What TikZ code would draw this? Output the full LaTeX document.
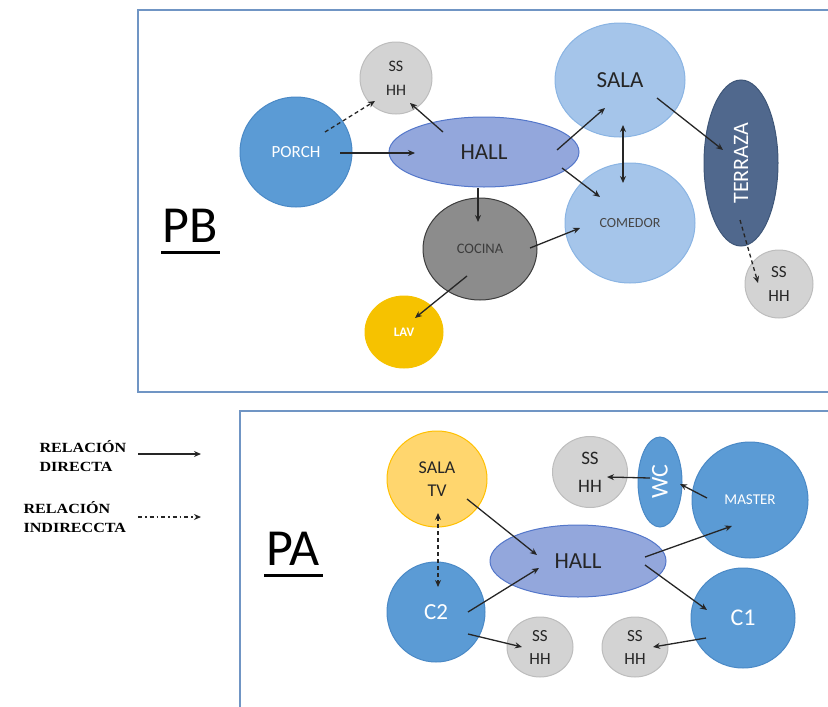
\documentclass[tikz,border=0pt]{standalone}
\usepackage{fontspec}
\usepackage{graphicx}
\setmainfont{Carlito}
\newfontfamily\legendfont[FakeStretch=1.15]{Liberation Serif}
\usetikzlibrary{shapes.geometric,arrows.meta}

\definecolor{ink}{HTML}{262626}
\definecolor{framecol}{HTML}{7095C4}
\definecolor{midblue}{HTML}{5B9BD5}
\definecolor{midblueline}{HTML}{4A89C6}
\definecolor{lightblue}{HTML}{A5C5EA}
\definecolor{lightblueline}{HTML}{8AB4E3}
\definecolor{hallfill}{HTML}{93A7DC}
\definecolor{hallline}{HTML}{5477CA}
\definecolor{slate}{HTML}{50688D}
\definecolor{slateline}{HTML}{3E5678}
\definecolor{ssfill}{HTML}{D3D3D3}
\definecolor{ssline}{HTML}{BDBDBD}
\definecolor{kitchen}{HTML}{8C8C8C}
\definecolor{kitchenline}{HTML}{3C3C3C}
\definecolor{laundry}{HTML}{F6C200}
\definecolor{tvfill}{HTML}{FFD66E}
\definecolor{tvline}{HTML}{FFC000}

\newcommand\fsz[2]{\fontsize{#1}{#2}\selectfont}

\tikzset{
  room/.style={ellipse, inner sep=0pt, line width=1pt, align=center, text=ink},
  bluerm/.style={room, fill=midblue, draw=midblueline, text=white},
  lightrm/.style={room, fill=lightblue, draw=lightblueline},
  hallrm/.style={room, fill=hallfill, draw=hallline},
  bathrm/.style={room, fill=ssfill, draw=ssline},
  frame/.style={draw=framecol, line width=2pt},
  arr/.style={draw=ink, line width=1.3pt, -{Stealth[length=7pt,width=6pt]}},
  darr/.style={arr, dash pattern=on 4pt off 3pt},
  biarr/.style={draw=ink, line width=1.3pt, {Stealth[length=7pt,width=6pt]}-{Stealth[length=7pt,width=6pt]}},
  bidarr/.style={biarr, dash pattern=on 4pt off 3pt},
  plan/.style={font=\fsz{52}{52}, text=black},
  legend/.style={font=\legendfont\bfseries\fsz{14}{19}, align=left, anchor=west, text=black},
}

\begin{document}
\begin{tikzpicture}[x=1pt,y=-1pt]
\useasboundingbox (0,0) rectangle (828,707);

% frames of the two floors
\draw[frame] (845,10) -- (138,10) -- (138,392) -- (845,392);
\draw[frame] (845,411) -- (240,411) -- (240,720);

% ---------- ground floor (PB) ----------
\node[plan] (pb) at (190,226) {PB};
\draw[line width=3pt] (161,252) -- (220,252);

\node[bluerm, minimum width=112pt, minimum height=110pt, font=\fsz{17}{20}] (porch) at (296,152) {PORCH};
\node[bathrm, minimum width=72pt, minimum height=72pt, font=\fsz{16}{24}] (ssa) at (396,78) {SS\\HH};
\node[hallrm, minimum width=190pt, minimum height=70pt, font=\fsz{23}{26}] (hall) at (484,152) {HALL};
\node[lightrm, minimum width=130pt, minimum height=114pt, font=\fsz{23}{26}] (sala) at (620,80) {SALA};
\node[lightrm, minimum width=130pt, minimum height=120pt, font=\fsz{14}{16}, text=ink!85] (comedor) at (630,223) {COMEDOR};
\node[room, fill=slate, draw=slateline, minimum width=74pt, minimum height=166pt, text=white, font=\fsz{22}{24}] (terraza) at (741,163) {\rotatebox{90}{TERRAZA}};
\node[bathrm, minimum width=68pt, minimum height=68pt, font=\fsz{17}{24}] (ssb) at (779,284) {SS\\HH};
\node[room, fill=kitchen, draw=kitchenline, minimum width=114pt, minimum height=102pt, font=\fsz{14.5}{16}, text=ink!90] (cocina) at (480,249) {COCINA};
\node[room, fill=laundry, draw=laundry, minimum width=78pt, minimum height=72pt, text=white, font=\bfseries\fsz{13}{15}] (lav) at (404,332) {LAV};

\draw[arr] ([shift={(44,1)}]porch.center) -- ([shift={(-69,1)}]hall.center);
\draw[darr] ([shift={(29,-20)}]porch.center) -- ([shift={(-21,23)}]ssa.center);
\draw[arr] ([shift={(-41,-20)}]hall.center) -- ([shift={(14,25)}]ssa.center);
\draw[arr] ([shift={(73,-2)}]hall.center) -- ([shift={(-15,28)}]sala.center);
\draw[arr] ([shift={(78,16)}]hall.center) -- ([shift={(-30,-26)}]comedor.center);
\draw[arr] ([shift={(-6,36)}]hall.center) -- ([shift={(-2,-27)}]cocina.center);
\draw[arr] ([shift={(50,-1)}]cocina.center) -- ([shift={(-50,5)}]comedor.center);
\draw[arr] ([shift={(-13,27)}]cocina.center) -- ([shift={(11,-14)}]lav.center);
\draw[biarr] ([shift={(3,45)}]sala.center) -- ([shift={(-7,-40)}]comedor.center);
\draw[arr] ([shift={(37,18)}]sala.center) -- ([shift={(-18,-13)}]terraza.center);
\draw[darr] ([shift={(-1,57)}]terraza.center) -- ([shift={(-21,-1)}]ssb.center);

% ---------- upper floor (PA) ----------
\node[plan] (pa) at (293,549) {PA};
\draw[line width=3pt] (264,575) -- (323,575);

\node[room, fill=tvfill, draw=tvline, minimum width=100pt, minimum height=96pt, font=\fsz{18}{23}] (salatv) at (437,479) {SALA\\TV};
\node[bathrm, minimum width=75pt, minimum height=71pt, font=\fsz{19}{28}] (ssc) at (590,472) {SS\\HH};
\node[bluerm, minimum width=44pt, minimum height=90pt, font=\fsz{24}{26}] (wc) at (660,482) {\rotatebox{90}{WC}};
\node[bluerm, minimum width=116pt, minimum height=116pt, font=\fsz{15}{17}] (master) at (750,500) {MASTER};
\node[hallrm, minimum width=176pt, minimum height=72pt, font=\fsz{23}{26}] (hallb) at (578,561) {HALL};
\node[bluerm, minimum width=98pt, minimum height=100pt, font=\fsz{23}{26}] (c2) at (436,612) {C2};
\node[bathrm, minimum width=66pt, minimum height=60pt, font=\fsz{17}{23}] (ssd) at (540,647) {SS\\HH};
\node[bathrm, minimum width=66pt, minimum height=60pt, font=\fsz{17}{23}] (sse) at (635,647) {SS\\HH};
\node[bluerm, minimum width=104pt, minimum height=100pt, font=\fsz{24}{26}] (c1) at (743,618) {C1};

\draw[arr] ([shift={(30,20)}]salatv.center) -- ([shift={(-41,-6)}]hallb.center);
\draw[bidarr] ([shift={(1,34)}]salatv.center) -- ([shift={(2,-25)}]c2.center);
\draw[arr] ([shift={(32,0)}]c2.center) -- ([shift={(-39,7)}]hallb.center);
\draw[arr] ([shift={(67,-4)}]hallb.center) -- ([shift={(-18,26)}]master.center);
\draw[arr] ([shift={(67,4)}]hallb.center) -- ([shift={(-36,-8)}]c1.center);
\draw[arr] ([shift={(32,22)}]c2.center) -- ([shift={(-18,0)}]ssd.center);
\draw[arr] ([shift={(-37,20)}]c1.center) -- ([shift={(18,0)}]sse.center);
\draw[arr] ([shift={(-43,-2)}]master.center) -- ([shift={(20,2)}]wc.center);
\draw[arr] ([shift={(-10,-4)}]wc.center) -- ([shift={(17,5)}]ssc.center);

% ---------- legend ----------
\node[legend] (ldir) at (36,456) {RELACIÓN\\DIRECTA};
\node[legend] (lind) at (20,517) {RELACIÓN\\INDIRECCTA};
\coordinate (ldirA) at (138,454);
\coordinate (ldirB) at (201,454);
\coordinate (lindA) at (138,517);
\coordinate (lindB) at (201,517);
\draw[arr, line width=1.2pt] (ldirA) -- (ldirB);
\draw[arr, line width=1.2pt, dash pattern=on 4pt off 3pt on 1.5pt off 3pt] (lindA) -- (lindB);
\end{tikzpicture}
\end{document}
